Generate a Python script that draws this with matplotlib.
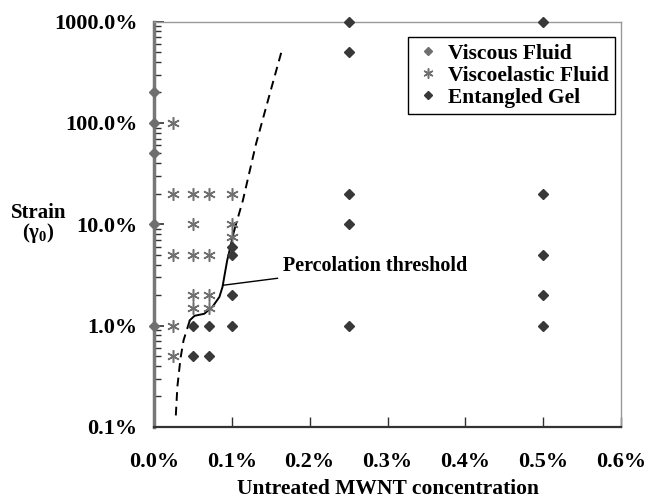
import matplotlib
matplotlib.use("Agg")
import matplotlib.pyplot as plt
from matplotlib.ticker import FixedLocator, FuncFormatter, LogLocator, NullFormatter

plt.rcParams['font.family'] = ['Liberation Serif', 'DejaVu Serif']
plt.rcParams['font.weight'] = 'bold'
plt.rcParams['mathtext.fontset'] = 'custom'
plt.rcParams['mathtext.rm'] = 'Liberation Serif:bold'
plt.rcParams['mathtext.it'] = 'Liberation Serif:bold'
plt.rcParams['mathtext.bf'] = 'Liberation Serif:bold'

# data: concentration (%) and strain (%)
viscous_x = [0, 0, 0, 0, 0]
viscous_y = [200, 100, 50, 10, 1]

visco_x = [0.025, 0.025, 0.025, 0.025, 0.025,
           0.05, 0.05, 0.05, 0.05, 0.05,
           0.07, 0.07, 0.07, 0.07,
           0.1, 0.1, 0.1]
visco_y = [100, 20, 5, 1, 0.5,
           20, 10, 5, 2, 1.5,
           20, 5, 2, 1.5,
           20, 10, 7.5]

gel_x = [0.05, 0.05, 0.07, 0.07,
         0.1, 0.1, 0.1, 0.1,
         0.25, 0.25, 0.25, 0.25, 0.25,
         0.5, 0.5, 0.5, 0.5, 0.5]
gel_y = [1, 0.5, 1, 0.5,
         6, 5, 2, 1,
         1000, 500, 20, 10, 1,
         1000, 20, 5, 2, 1]

# percolation threshold curve (dashed - solid - dashed)
low_x = [0.028, 0.030, 0.034, 0.038, 0.046]
low_y = [0.13, 0.25, 0.475, 0.72, 1.13]
mid_x = [0.046, 0.052, 0.0645, 0.075, 0.084, 0.088, 0.091, 0.094, 0.097, 0.100, 0.103]
mid_y = [1.13, 1.25, 1.31, 1.53, 1.92, 2.41, 3.27, 4.4, 5.5, 6.95, 8.7]
up_x = [0.103, 0.114, 0.131, 0.148, 0.165]
up_y = [8.7, 17, 62, 185, 546]

x_ticks = [0, 0.1, 0.2, 0.3, 0.4, 0.5, 0.6]
y_ticks = [0.1, 1, 10, 100, 1000]

fig = plt.figure(figsize=(6.48, 5.04), dpi=100)
ax = fig.add_axes([0.2377, 0.1528, 0.7206, 0.8043])

ax.plot(low_x, low_y, color='black', ls=(0, (4.5, 3)), lw=1.4)
ax.plot(mid_x, mid_y, color='black', ls='-', lw=1.4)
ax.plot(up_x, up_y, color='black', ls=(0, (4.5, 3)), lw=1.4)

ax.plot(viscous_x, viscous_y, ls='none', marker='D', ms=5, color='#6f6f6f',
        label='Viscous Fluid', clip_on=False, zorder=5)
ax.plot(visco_x, visco_y, ls='none', marker=(6, 2, 0), ms=9, mew=1.1,
        color='#707070', label='Viscoelastic Fluid', clip_on=False, zorder=4)
ax.plot(gel_x, gel_y, ls='none', marker='D', ms=5, color='#383838',
        label='Entangled Gel', clip_on=False, zorder=5)

ax.annotate('Percolation threshold', xy=(0.088, 2.5), xytext=(0.166, 3.9),
            fontsize=14.5, fontweight='bold', va='center', ha='left',
            arrowprops=dict(arrowstyle='-', color='black', lw=1,
                            shrinkA=2, shrinkB=0))

ax.set_yscale('log')
ax.set_xlim(0, 0.6)
ax.set_ylim(0.1, 1000)
ax.xaxis.set_major_locator(FixedLocator(x_ticks))
ax.xaxis.set_major_formatter(FuncFormatter(lambda v, p: f"{v:.1f}%"))
ax.yaxis.set_major_locator(FixedLocator(y_ticks))
ax.yaxis.set_major_formatter(FuncFormatter(lambda v, p: f"{v:.1f}%"))
ax.yaxis.set_minor_locator(LogLocator(base=10, subs=range(2, 10)))
ax.yaxis.set_minor_formatter(NullFormatter())

ax.tick_params(axis='both', which='both', direction='in', labelsize=16)
ax.tick_params(axis='y', which='major', length=7, width=1.2, pad=12, color='#303030')
ax.tick_params(axis='y', which='minor', length=5, width=1.0, color='#303030')
ax.tick_params(axis='x', which='major', length=7, width=1.0, pad=18, color='#303030')

ax.spines['left'].set_color('#777777')
ax.spines['left'].set_linewidth(2.5)
ax.spines['bottom'].set_color('#333333')
ax.spines['bottom'].set_linewidth(1.6)
ax.spines['top'].set_color('#999999')
ax.spines['top'].set_linewidth(1)
ax.spines['right'].set_color('#999999')
ax.spines['right'].set_linewidth(1)

for lbl in ax.get_xticklabels() + ax.get_yticklabels():
    lbl.set_fontweight('bold')

leg = ax.legend(loc='upper right', bbox_to_anchor=(0.987, 0.962), borderaxespad=0,
                fancybox=False, framealpha=1, edgecolor='black', fontsize=15.5,
                handlelength=1.3, handletextpad=0.25, labelspacing=0.1,
                borderpad=0.3, markerscale=0.8)
leg.get_frame().set_linewidth(1)
for t in leg.get_texts():
    t.set_fontweight('bold')

ax.set_xlabel('Untreated MWNT concentration', fontsize=15.5, fontweight='bold', labelpad=5)
fig.text(0.059, 0.577, 'Strain', fontsize=15, fontweight='bold', ha='center', va='center')
fig.text(0.059, 0.538, r'$(\gamma_0)$', fontsize=15, ha='center', va='center')

fig.savefig('out.png', dpi=100)
